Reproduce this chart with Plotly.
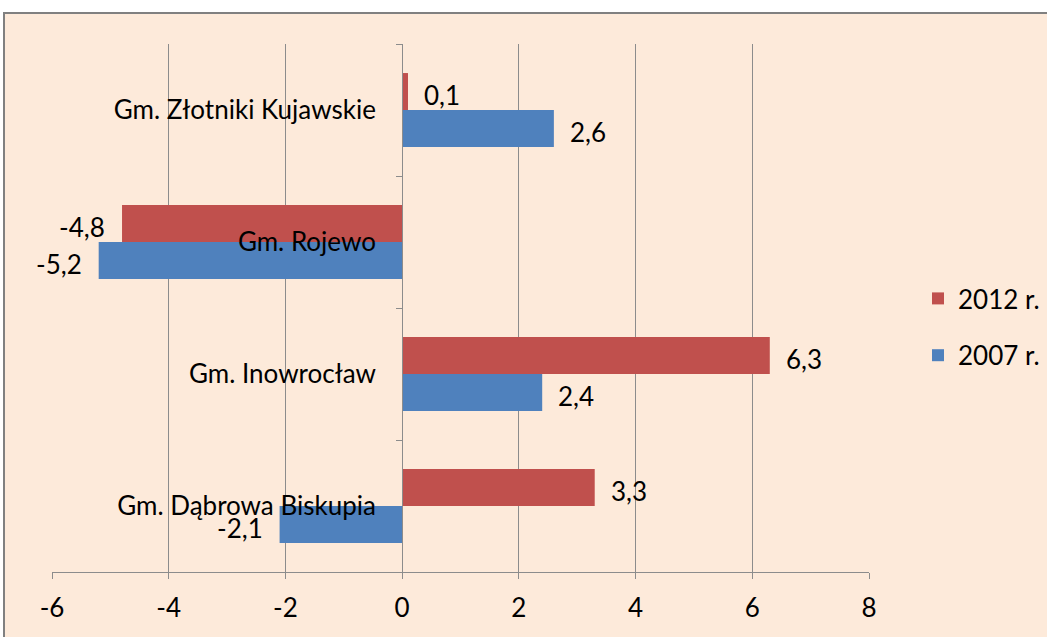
import plotly.graph_objects as go

categories = ["Gm. Dąbrowa Biskupia", "Gm. Inowrocław", "Gm. Rojewo", "Gm. Złotniki Kujawskie"]
values_2007 = [-2.1, 2.4, -5.2, 2.6]
values_2012 = [3.3, 6.3, -4.8, 0.1]
series_names = ["2007 r.", "2012 r."]
x_ticks = [-6, -4, -2, 0, 2, 4, 6, 8]

RED = "#C0504D"
BLUE = "#4F81BD"
BG = "#FDEADA"
GRID = "#8C8C8C"
FONT = "Lato, 'Open Sans', sans-serif"
FS = 26

W, H = 1047, 637
L, R, T, B = 52, 178, 44, 65
pw, ph = W - L - R, H - T - B

def px_x(p):
    return (p - L) / pw

def px_y(p):
    return (H - B - p) / ph

fig = go.Figure()
series = [(series_names[0], values_2007, BLUE, "a", 2, -18.5),
          (series_names[1], values_2012, RED, "b", 1, 18.5)]
for name, vals, col, grp, rank, yshift in series:
    fig.add_trace(go.Bar(
        y=categories, x=vals, name=name, orientation="h",
        marker=dict(color=col, line=dict(width=0)),
        legendgroup=grp, legendrank=rank,
    ))
    for cat, v in zip(categories, vals):
        fig.add_annotation(
            x=v, y=cat, xref="x", yref="y",
            text=f"{v:.1f}".replace(".", ","),
            showarrow=False,
            xanchor="left" if v >= 0 else "right",
            xshift=14 if v >= 0 else -15,
            yshift=yshift - 3,
            font=dict(size=FS, color="#000000", family=FONT),
        )

fig.add_shape(type="rect", xref="paper", yref="paper",
              x0=px_x(4), x1=px_x(1070), y0=px_y(660), y1=px_y(13),
              fillcolor=BG, line=dict(color="#808080", width=2), layer="below")

zero_pos = (0 - x_ticks[0]) / (x_ticks[-1] - x_ticks[0])

fig.update_layout(
    width=W, height=H,
    margin=dict(l=L, r=R, t=T, b=B, autoexpand=False),
    paper_bgcolor="white", plot_bgcolor="rgba(0,0,0,0)",
    barmode="group", bargap=0.44, bargroupgap=0,
    font=dict(family=FONT, size=FS, color="#000000"),
    showlegend=True,
    legend=dict(x=px_x(918), y=px_y(327), xanchor="left", yanchor="middle",
                traceorder="grouped", tracegroupgap=20,
                font=dict(size=FS, family=FONT), bgcolor="rgba(0,0,0,0)"),
    xaxis=dict(range=[x_ticks[0], x_ticks[-1]], tickvals=x_ticks,
               ticktext=[str(t) for t in x_ticks], automargin=False,
               showgrid=True, gridcolor=GRID, gridwidth=1,
               zeroline=True, zerolinecolor=GRID, zerolinewidth=1,
               showline=True, linecolor=GRID, linewidth=1,
               ticks="outside", ticklen=6, tickcolor=GRID,
               ticklabelstandoff=7,
               tickfont=dict(size=FS, family=FONT)),
    yaxis=dict(type="category", categoryorder="array", categoryarray=categories,
               anchor="free", position=zero_pos, automargin=False,
               showgrid=False, showline=True, linecolor=GRID, linewidth=1,
               ticks="outside", ticklen=6, tickcolor=GRID, tickson="boundaries",
               ticklabelstandoff=21,
               tickfont=dict(size=FS, family=FONT)),
)

fig.write_html("out.html", config={"displayModeBar": False},
               post_script="document.body.style.margin='0';document.body.style.overflow='hidden';")
